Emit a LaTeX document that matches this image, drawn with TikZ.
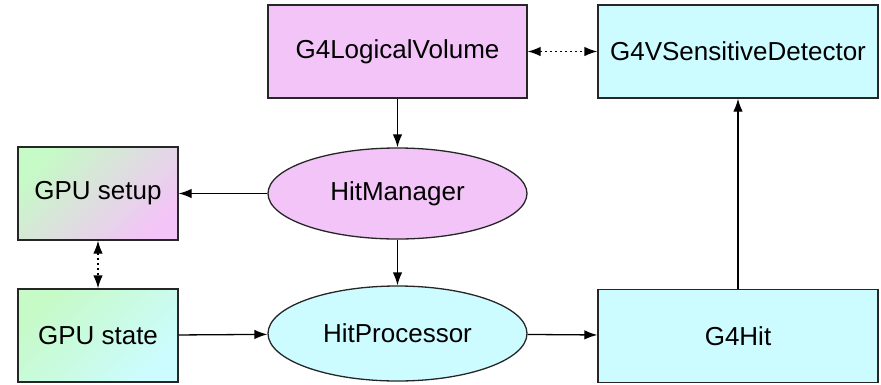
\documentclass[tikz,border=0pt]{standalone}
\usepackage{fontspec}
\setmainfont{Liberation Sans}
\usetikzlibrary{arrows.meta,shapes.geometric}

\definecolor{lvpink}{RGB}{243,196,247}
\definecolor{sdcyan}{RGB}{204,252,255}
\definecolor{gpugreen}{RGB}{198,250,198}
\definecolor{gpugrey}{RGB}{222,222,222}

\tikzset{
  base/.style={draw=black!85, line width=1.3pt, inner sep=0pt,
    font=\fontsize{26}{30}\selectfont},
  boxnode/.style={base, rectangle, minimum width=259pt, minimum height=93pt},
  smallbox/.style={base, rectangle, minimum width=160pt, minimum height=93pt},
  ovalnode/.style={base, ellipse, minimum width=259pt, minimum height=#1},
  pinkfill/.style={fill=lvpink},
  cyanfill/.style={fill=sdcyan},
  conn/.style={line width=1.3pt, -{Latex[length=13pt,width=9.5pt]}},
  dotconn/.style={line width=1.3pt, dash pattern=on 1.5pt off 3.5pt,
    {Latex[length=13pt,width=9.5pt]}-{Latex[length=13pt,width=9.5pt]}}
}

\begin{document}
\begin{tikzpicture}[x=1pt,y=-1pt]
  \useasboundingbox (0,0) rectangle (881,384);

  % top row
  \node[boxnode, pinkfill] (lv) at (397.5,51.5) {G4LogicalVolume};
  \node[boxnode, cyanfill, minimum width=280pt] (sd) at (738,51.5) {G4VSensitiveDetector};

  % middle row (gradient runs from the top left to the bottom right corner)
  \node[smallbox, top color=gpugreen, middle color=gpugrey, bottom color=lvpink,
        shading angle=45] (setup) at (98,193.5) {GPU setup};
  \node[ovalnode=91pt, pinkfill] (hm) at (397.5,193.5) {HitManager};

  % bottom row
  \node[smallbox, top color=gpugreen, bottom color=sdcyan, shading angle=45]
        (state) at (98,335.5) {GPU state};
  \node[ovalnode=95pt, cyanfill] (hp) at (397.5,333.5) {HitProcessor};
  \node[boxnode, cyanfill, minimum width=280pt] (hit) at (738,336) {G4Hit};

  % connectors
  \draw[conn] (lv) -- (hm);
  \draw[conn] (hm) -- (setup);
  \draw[conn] (hm) -- (hp);
  \draw[conn] (state) -- (hp);
  \draw[conn] (hp) -- (hit);
  \draw[conn] (hit) -- (sd);
  \draw[dotconn] (lv) -- (sd);
  \draw[dotconn] (setup) -- (state);
\end{tikzpicture}
\end{document}
